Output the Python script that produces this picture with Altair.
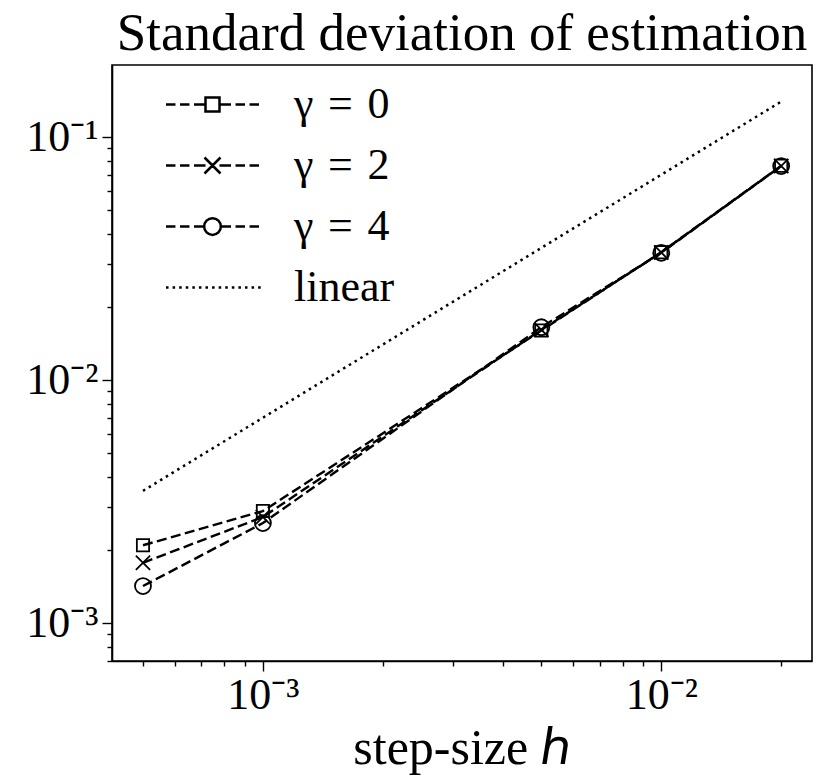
import altair as alt
import pandas as pd

# ---- data ----
h = [0.0005, 0.001, 0.005, 0.01, 0.02]
sd_gamma0 = [0.00209, 0.00289, 0.0160, 0.0336, 0.0762]
sd_gamma2 = [0.00177, 0.00273, 0.0161, 0.0335, 0.0760]
sd_gamma4 = [0.00142, 0.00258, 0.0165, 0.0334, 0.0760]
linear_ref = [0.0035, 0.007, 0.035, 0.07, 0.14]
series_names = ["γ\u2004=\u20040", "γ\u2004=\u20042", "γ\u2004=\u20044", "linear"]

x_ticks = [0.0005, 0.0006, 0.0007, 0.0008, 0.0009, 0.001,
           0.002, 0.003, 0.004, 0.005, 0.006, 0.007, 0.008, 0.009, 0.01, 0.02]
y_ticks = [0.0007, 0.0008, 0.0009, 0.001,
           0.002, 0.003, 0.004, 0.005, 0.006, 0.007, 0.008, 0.009, 0.01,
           0.02, 0.03, 0.04, 0.05, 0.06, 0.07, 0.08, 0.09, 0.1]
major_labels = {0.001: "10⁻³", 0.01: "10⁻²", 0.1: "10⁻¹"}

x_domain = [0.000418, 0.0239]
y_domain = [0.000698, 0.198]

rows = []
for name, vals in zip(series_names, [sd_gamma0, sd_gamma2, sd_gamma4, linear_ref]):
    for hv, v in zip(h, vals):
        rows.append({"h": hv, "sd": v, "series": name})
df = pd.DataFrame(rows)

FONT = "Liberation Serif"

# ---- style helpers ----
label_expr = " : ".join(
    [f"datum.value == {k} ? '{v}'" for k, v in major_labels.items()]
) + " : ''"
major_test = " || ".join([f"datum.value == {k}" for k in major_labels])
tick_size = {"condition": {"test": major_test, "value": 10}, "value": 5}

x_enc = alt.X("h:Q", scale=alt.Scale(type="log", domain=x_domain, nice=False),
              axis=alt.Axis(values=x_ticks, labelExpr=label_expr, labelOverlap=False,
                            tickSize=tick_size, title="step-size ℎ",
                            labelFontSize=44, titleFontSize=50, labelPadding=2,
                            titlePadding=6, labelFont=FONT, titleFont=FONT,
                            titleFontWeight="normal"))
y_enc = alt.Y("sd:Q", scale=alt.Scale(type="log", domain=y_domain, nice=False),
              axis=alt.Axis(values=y_ticks, labelExpr=label_expr, labelOverlap=False,
                            tickSize=tick_size, title=None,
                            labelFontSize=44, labelPadding=4, labelFont=FONT,
                            minExtent=104, maxExtent=104))

# legend symbol paths (unit = 25 px at symbolSize 2500)
K = 1.86
def dash_path(marker):
    segs = [(-1, -0.796), (-0.699, -0.495), (-0.398, -0.15),
            (0.15, 0.398), (0.495, 0.699), (0.796, 1)]
    p = "".join(f"M{a * K:.3f},0H{b * K:.3f}" for a, b in segs)
    return p + marker

leg_square = dash_path("M-0.28,-0.28H0.28V0.28H-0.28Z")
leg_cross = dash_path("M-0.32,-0.32L0.32,0.32M-0.32,0.32L0.32,-0.32")
leg_circle = dash_path("M-0.335,0A0.335,0.335 0 1,0 0.335,0A0.335,0.335 0 1,0 -0.335,0Z")
leg_dots = "".join(f"M{(-1 + i * 0.1415) * K:.4f},0H{(-1 + i * 0.1415 + 0.055) * K:.4f}"
                   for i in range(15))

gammas = series_names[:3]
base = alt.Chart(df)

lines = base.transform_filter(
    alt.FieldOneOfPredicate(field="series", oneOf=gammas)
).mark_line(color="black", strokeWidth=2.4, strokeDash=[10, 4.5], strokeCap="butt").encode(
    x=x_enc, y=y_enc, detail="series:N")

linear = base.transform_filter(
    alt.FieldEqualPredicate(field="series", equal="linear")
).mark_line(color="black", strokeWidth=2.5, strokeDash=[2.5, 4.2], strokeCap="butt").encode(
    x=x_enc, y=y_enc)

points = base.transform_filter(
    alt.FieldOneOfPredicate(field="series", oneOf=gammas)
).mark_point(filled=False, color="black", strokeWidth=1.8, opacity=1).encode(
    x=x_enc, y=y_enc,
    shape=alt.Shape("series:N", scale=alt.Scale(domain=gammas,
                    range=["square", "M-1,-1L1,1M-1,1L1,-1", "circle"]), legend=None),
    size=alt.Size("series:N", scale=alt.Scale(domain=gammas, range=[150, 256, 300]), legend=None),
)

legend_layer = base.mark_point(filled=False, color="black", strokeWidth=2.5, opacity=0).encode(
    x=x_enc, y=y_enc,
    shape=alt.Shape("series:N",
                    scale=alt.Scale(domain=series_names,
                                    range=[leg_square, leg_cross, leg_circle, leg_dots]),
                    legend=alt.Legend(title=None, orient="none", legendX=74, legendY=13,
                                      symbolSize=2500, symbolStrokeWidth=2.5,
                                      symbolStrokeColor="black", symbolFillColor="transparent",
                                      symbolOpacity=1, labelFont=FONT, labelFontSize=44,
                                      labelOffset=55, rowPadding=12, padding=0,
                                      labelLimit=500, labelColor="black")),
)

chart = alt.layer(linear, lines, points, legend_layer).resolve_scale(
    shape="independent", size="independent"
).properties(
    width=700, height=596,
    title=alt.TitleParams("Standard deviation of estimation", font=FONT, fontSize=53,
                          fontWeight="normal", anchor="middle", offset=4, color="black"),
    padding={"left": 0, "top": 0, "right": 5, "bottom": 5},
).configure_view(stroke="black", strokeWidth=1.6).configure_axis(
    grid=False, domainColor="black", domainWidth=1.6, tickColor="black", tickWidth=1.4,
    labelColor="black", titleColor="black"
)

chart.save("out.html", embed_options={"renderer": "svg", "actions": False})
